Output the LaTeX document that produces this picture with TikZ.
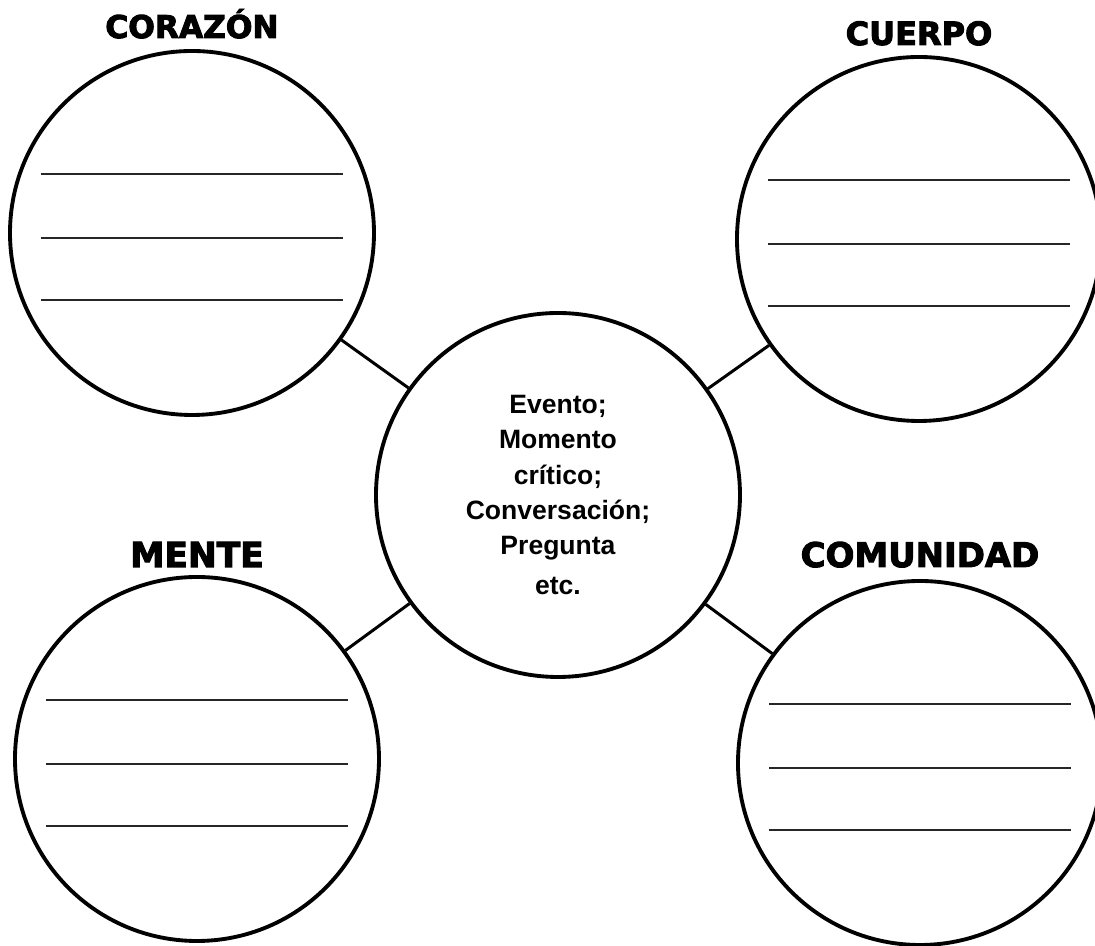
\documentclass[tikz,border=0pt]{standalone}
\usepackage{fontspec}
\setmainfont{Liberation Sans}
\newfontfamily\heavyfont[FakeBold=3]{DejaVu Sans Bold}
\usetikzlibrary{positioning}

\begin{document}
\begin{tikzpicture}[node distance=2cm,on grid,
    circulo/.style={circle, draw, line width=2.2pt, minimum size=7.28cm, inner sep=0pt},
    titulo/.style={font=\heavyfont\fontsize{#1}{#1}\selectfont, anchor=base},
    renglon/.style={draw=black!85, line width=1.3pt},
    enlace/.style={line width=1.7pt}]
    \useasboundingbox (-11.16,-9.02) rectangle (10.74,9.9);
    \node[circulo, align=center, font=\bfseries\fontsize{15.1}{20.1}\selectfont] (c) at (0,0)
        {Evento;\\ Momento\\ crítico;\\ Conversación;\\ Pregunta\\[2.6pt] etc.};
    \node[circulo] (corazon) [above left=5.24 and 7.32 of c] {};
    \node[circulo] (cuerpo) [above right=5.12 and 7.22 of c] {};
    \node[circulo] (mente) [below left=5.28 and 7.22 of c] {};
    \node[circulo] (comunidad) [below right=5.36 and 7.24 of c] {};
    \node (t_corazon) [above=3.9 of corazon, titulo=17.8] {CORAZÓN};
    \node (t_cuerpo) [above=3.88 of cuerpo, titulo=18.2] {CUERPO};
    \node (t_mente) [above=3.84 of mente, titulo=19.6] {MENTE};
    \node (t_comunidad) [above=3.92 of comunidad, titulo=19.3] {COMUNIDAD};
    % renglones para escribir
    \foreach \n in {corazon,cuerpo,mente,comunidad}
      \foreach \dy in {1.18,-0.1,-1.34}
        \draw[renglon] ([shift={(-3.02,\dy)}]\n.center) -- ++(6.04,0);
    \path[enlace]
        (c) edge (corazon)
            edge (cuerpo)
            edge (mente)
            edge (comunidad);
\end{tikzpicture}
\end{document}
